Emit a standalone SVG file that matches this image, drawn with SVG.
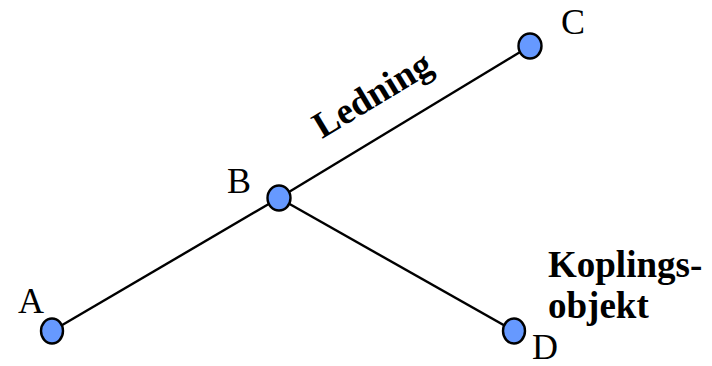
<svg xmlns="http://www.w3.org/2000/svg" width="712" height="366" viewBox="0 0 712 366">
<style>
.node{fill:#6699ff;stroke:#000;stroke-width:2.4}
.edge{stroke:#000;stroke-width:2.4;fill:none}
.lbl{font-family:"Liberation Serif","Times New Roman",serif;font-size:36px;fill:#000}
.bold{font-weight:bold;font-size:37px}
</style>
<rect width="712" height="366" fill="#fff"/>
<g id="connectors">
<line class="edge" x1="52" y1="331" x2="279" y2="198"/>
<line class="edge" x1="279" y1="198" x2="530" y2="46"/>
<line class="edge" x1="279" y1="198" x2="514" y2="331"/>
</g>
<g id="A"><ellipse class="node" cx="52" cy="331" rx="11" ry="12.5"/><text class="lbl" x="18" y="313">A</text></g>
<g id="B"><ellipse class="node" cx="279" cy="198" rx="11.5" ry="12.5"/><text class="lbl" x="227" y="193">B</text></g>
<g id="C"><ellipse class="node" cx="530" cy="46" rx="11.5" ry="12.5"/><text class="lbl" x="561" y="34">C</text></g>
<g id="D"><ellipse class="node" cx="514" cy="331" rx="11" ry="12.5"/><text class="lbl" x="532" y="359">D</text></g>
<g id="ledning-label"><text class="lbl bold" x="322" y="139" transform="rotate(-31 322 139)">Ledning</text></g>
<g id="koplings-label"><text class="lbl bold" x="548" y="277">Koplings-</text><text class="lbl bold" x="548" y="318">objekt</text></g>
</svg>
